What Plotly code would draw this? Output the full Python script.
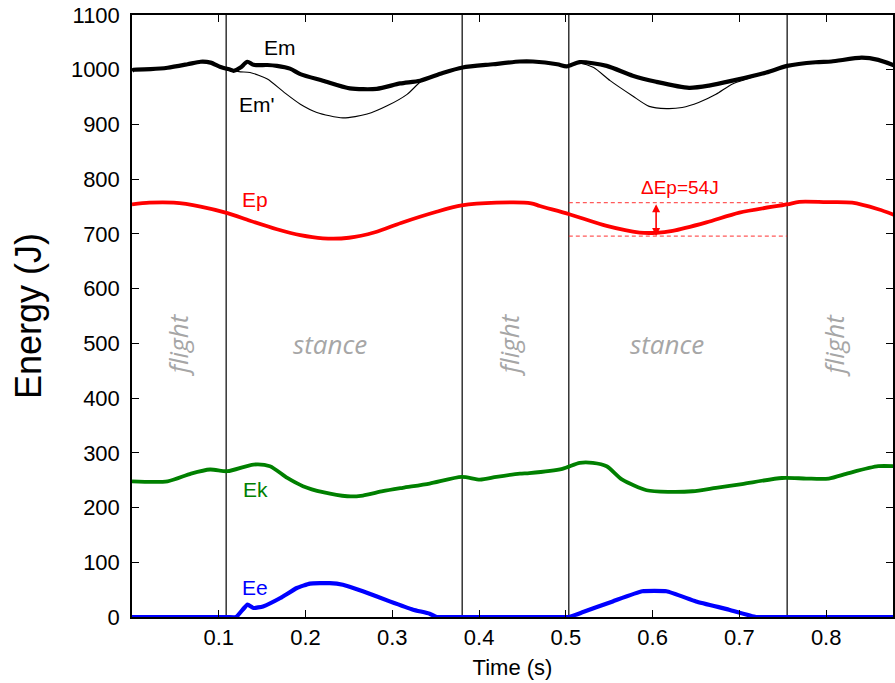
import plotly.graph_objects as go

# ---------------- data ----------------
em_t = [0.0, 0.002, 0.0215, 0.041, 0.064, 0.079, 0.0905, 0.102, 0.1134, 0.117, 0.125, 0.133, 0.140,
        0.156, 0.167, 0.182, 0.194, 0.220, 0.251, 0.282, 0.309, 0.332, 0.358, 0.381, 0.416, 0.447,
        0.462, 0.490, 0.501, 0.516, 0.547, 0.577, 0.604, 0.642, 0.665, 0.692, 0.731, 0.755, 0.788,
        0.806, 0.841, 0.860, 0.878]
em_v = [998, 1000, 1001, 1003.6, 1010, 1014.6, 1013, 1005, 1000, 998, 1004, 1014.6, 1009,
        1008.6, 1007, 1002, 992, 980, 966, 965, 975, 980, 994, 1004, 1010, 1015,
        1015, 1010, 1006, 1014, 1007, 989, 978, 967, 971, 980, 995, 1007, 1013.7,
        1015, 1022, 1018, 1008]

emp_t = [0.0, 0.002, 0.0215, 0.041, 0.064, 0.079, 0.0905, 0.102, 0.1134, 0.117, 0.125, 0.136,
         0.156, 0.175, 0.194, 0.213, 0.243, 0.271, 0.294, 0.317, 0.332, 0.345, 0.358, 0.381,
         0.416, 0.447, 0.462, 0.490, 0.501, 0.516, 0.532, 0.551, 0.577, 0.596, 0.616, 0.634,
         0.653, 0.673, 0.692, 0.711, 0.731, 0.755, 0.788, 0.806, 0.841, 0.860, 0.878]
emp_v = [998, 1000, 1001, 1003.6, 1010, 1014.6, 1013, 1005, 1000, 998, 996, 995,
         983, 959, 937, 922, 912, 919, 934, 955, 977, 987, 994, 1004,
         1010, 1015, 1015, 1010, 1006, 1012, 1004, 980, 952, 933, 929, 931,
         940, 955, 974, 984, 995, 1007, 1013.7, 1015, 1022, 1018, 1008]

ep_t = [0.0, 0.02, 0.048, 0.079, 0.110, 0.136, 0.167, 0.194, 0.22, 0.25, 0.28, 0.31, 0.35, 0.38,
        0.42, 0.46, 0.47, 0.504, 0.547, 0.585, 0.604, 0.623, 0.662, 0.70, 0.755, 0.769, 0.80,
        0.83, 0.86, 0.878]
ep_v = [754, 757, 757, 750, 738, 724, 708.5, 697.6, 692, 693, 703, 720, 740, 752,
        757, 756, 751, 736, 714.6, 702.5, 702, 705.5, 721, 739, 754, 758.5, 758,
        757, 745, 735]

ek_t = [0.0, 0.041, 0.068, 0.090, 0.110, 0.140, 0.159, 0.179, 0.197, 0.220, 0.248, 0.266, 0.289,
        0.312, 0.343, 0.380, 0.401, 0.420, 0.447, 0.458, 0.496, 0.516, 0.531, 0.547, 0.565, 0.593,
        0.619, 0.646, 0.673, 0.703, 0.749, 0.777, 0.803, 0.826, 0.860, 0.878]
ek_v = [248, 248, 262, 269.5, 266.4, 278.6, 275.5, 254, 239, 228, 220.6, 222, 229.8,
        236, 243.9, 256, 251, 256, 262, 263, 270.7, 281.7, 281.7, 275.5, 251, 231.6,
        228.7, 229.8, 236, 243, 254, 253, 253, 263, 275.5, 275.5]

ee_t = [0.0, 0.06, 0.11, 0.12, 0.133, 0.140, 0.151, 0.171, 0.190, 0.205, 0.228, 0.243, 0.266,
        0.297, 0.324, 0.343, 0.351, 0.36, 0.43, 0.49, 0.503, 0.519, 0.554, 0.588, 0.616, 0.650,
        0.688, 0.719, 0.73, 0.80, 0.878]
ee_v = [0, 0, 0, 0, 22.5, 16.5, 19.4, 34.7, 53, 61, 62, 59, 47,
        28.5, 13.4, 6, 0, 0, 0, 0, 0, 8.5, 28.5, 47, 47, 28.5,
        13.4, 0, 0, 0, 0]

phase_bounds = [0.1085, 0.3805, 0.5034, 0.755]
phase_names = ["flight", "stance", "flight", "stance", "flight"]
phase_label_t = [0.0537, 0.2284, 0.435, 0.617, 0.809]
phase_label_v = 498

dep_levels = [757, 696]          # dashed ΔEp reference levels
dep_span = [0.5034, 0.755]
dep_arrow_t = 0.604
dep_text = "ΔEp=54J"

x_ticks = [0.1, 0.2, 0.3, 0.4, 0.5, 0.6, 0.7, 0.8]
y_ticks = list(range(0, 1101, 100))
x_range = [0, 0.877]
y_range = [0, 1100]

# ---------------- figure ----------------
fig = go.Figure()

for b in phase_bounds:
    fig.add_trace(go.Scatter(x=[b, b], y=y_range, mode="lines",
                             line=dict(color="black", width=1.2), hoverinfo="skip"))

for lev in dep_levels:
    fig.add_trace(go.Scatter(x=dep_span, y=[lev, lev], mode="lines",
                             line=dict(color="#ff3030", width=1, dash="4px,3px"), hoverinfo="skip"))

fig.add_trace(go.Scatter(x=emp_t, y=emp_v, mode="lines", name="Em'",
                         line=dict(color="black", width=1.1, shape="spline", smoothing=0.7)))
fig.add_trace(go.Scatter(x=em_t, y=em_v, mode="lines", name="Em",
                         line=dict(color="black", width=4.2, shape="spline", smoothing=0.7)))
fig.add_trace(go.Scatter(x=ep_t, y=ep_v, mode="lines", name="Ep",
                         line=dict(color="#ff0000", width=3.8, shape="spline", smoothing=0.8)))
fig.add_trace(go.Scatter(x=ek_t, y=ek_v, mode="lines", name="Ek",
                         line=dict(color="#008000", width=3.8, shape="spline", smoothing=0.7)))
fig.add_trace(go.Scatter(x=ee_t, y=ee_v, mode="lines", name="Ee",
                         line=dict(color="#0000ff", width=4.2, shape="spline", smoothing=0.4)))

lab_font = dict(family="Liberation Sans, Arial", size=21)
labels = [("Em", 0.171, 1041, "black"), ("Em'", 0.1445, 937, "black"),
          ("Ep", 0.142, 763, "#ff0000"), ("Ek", 0.142, 233, "#008000"),
          ("Ee", 0.142, 54, "#0000ff")]
for txt, tx, ty, col in labels:
    fig.add_annotation(x=tx, y=ty, text=txt, showarrow=False,
                       font=dict(lab_font, color=col))

for name, tx in zip(phase_names, phase_label_t):
    fig.add_annotation(x=tx, y=phase_label_v, text=f"<i>{name}</i>", showarrow=False,
                       textangle=-90 if name == "flight" else 0,
                       font=dict(family="Open Sans", size=26, color="#a6a6a6"))

fig.add_annotation(x=0.632, y=785, text=dep_text, showarrow=False,
                   font=dict(family="Liberation Sans, Arial", size=19, color="#ff0000"))
fig.add_annotation(x=dep_arrow_t, y=dep_levels[1], ax=dep_arrow_t, ay=dep_levels[0],
                   xref="x", yref="y", axref="x", ayref="y", text="", showarrow=True,
                   arrowhead=2, arrowside="end+start", arrowsize=1, arrowwidth=1.6,
                   arrowcolor="#ff0000", standoff=0, startstandoff=0)

axis_common = dict(showline=True, linecolor="black", linewidth=1.5, mirror="ticks",
                   ticks="inside", ticklen=7, tickwidth=1, tickcolor="black",
                   showgrid=False, zeroline=False,
                   tickfont=dict(family="Liberation Sans, Arial", size=22, color="black"))

fig.update_xaxes(range=x_range, tickvals=x_ticks, ticktext=[f"{v:.1f}" for v in x_ticks],
                 title=dict(text="Time (s)", font=dict(family="Liberation Sans, Arial", size=22, color="black"),
                            standoff=10),
                 **axis_common)
fig.update_yaxes(range=y_range, tickvals=y_ticks, ticktext=[str(v) for v in y_ticks],
                 title=dict(text="Energy (J)", font=dict(family="Liberation Sans, Arial", size=36, color="black"),
                            standoff=18),
                 ticklabelstandoff=6,
                 **axis_common)

fig.update_layout(width=895, height=683, margin=dict(l=132, r=0, t=15, b=66),
                  plot_bgcolor="white", paper_bgcolor="white", showlegend=False)

fig.write_html("out.html")
